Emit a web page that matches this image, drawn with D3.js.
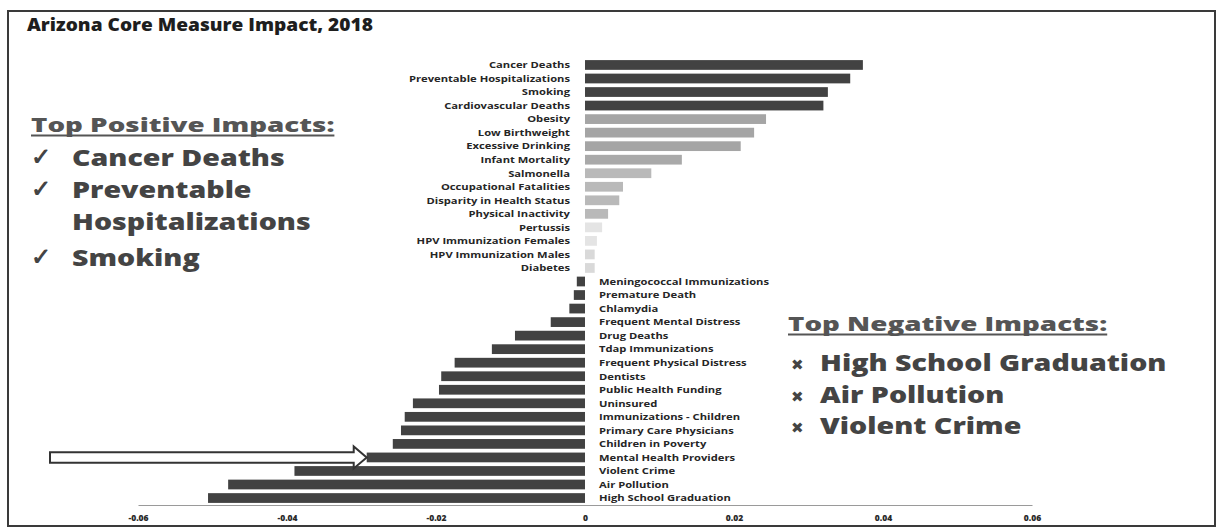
<!DOCTYPE html>
<html>
<head>
<meta charset="utf-8">
<script src="https://cdn.jsdelivr.net/npm/d3@7"></script>
<style>
  html, body { margin: 0; padding: 0; background: #fff; }
  svg { display: block; }
  text { font-family: "Open Sans", "Noto Sans", sans-serif; }
</style>
</head>
<body>
<svg id="chart" width="1219" height="531"></svg>
<script>
// ---------------- data ----------------
const title = "Arizona Core Measure Impact, 2018";

const categories = [
  "Cancer Deaths", "Preventable Hospitalizations", "Smoking", "Cardiovascular Deaths",
  "Obesity", "Low Birthweight", "Excessive Drinking", "Infant Mortality",
  "Salmonella", "Occupational Fatalities", "Disparity in Health Status", "Physical Inactivity",
  "Pertussis", "HPV Immunization Females", "HPV Immunization Males", "Diabetes",
  "Meningococcal Immunizations", "Premature Death", "Chlamydia", "Frequent Mental Distress",
  "Drug Deaths", "Tdap Immunizations", "Frequent Physical Distress", "Dentists",
  "Public Health Funding", "Uninsured", "Immunizations - Children", "Primary Care Physicians",
  "Children in Poverty", "Mental Health Providers", "Violent Crime", "Air Pollution",
  "High School Graduation"
];

const values = [
  0.0373, 0.0356, 0.0326, 0.0320,
  0.0243, 0.0227, 0.0209, 0.0130,
  0.0089, 0.0051, 0.0046, 0.0031,
  0.0023, 0.0016, 0.0013, 0.0013,
  -0.0011, -0.0015, -0.0021, -0.0046,
  -0.0094, -0.0125, -0.0175, -0.0193,
  -0.0196, -0.0231, -0.0242, -0.0247,
  -0.0258, -0.0293, -0.0390, -0.0479,
  -0.0506
];

const tickValues = [-0.06, -0.04, -0.02, 0, 0.02, 0.04, 0.06];

const highlighted = "Mental Health Providers";

const positiveHeading = "Top Positive Impacts:";
const positiveItems = [["Cancer Deaths"], ["Preventable", "Hospitalizations"], ["Smoking"]];
const negativeHeading = "Top Negative Impacts:";
const negativeItems = ["High School Graduation", "Air Pollution", "Violent Crime"];

// ---------------- drawing ----------------
const svg = d3.select("#chart");

// frame
svg.append("rect")
  .attr("x", 8).attr("y", 11).attr("width", 1207).attr("height", 515)
  .attr("fill", "none").attr("stroke", "#3a3a3a").attr("stroke-width", 2);

// title
const tt = svg.append("text")
  .attr("font-size", 18).attr("font-weight", 800).attr("fill", "#1e1e1e")
  .text(title);
const ttW = tt.node().getComputedTextLength();
tt.attr("transform", `translate(27,31) scale(${346 / ttW},1)`);

const data = categories.map((c, i) => ({ name: c, value: values[i] }));

const x = d3.scaleLinear().domain([-0.06, 0.06]).range([138, 1032]);
const y = d3.scaleBand().domain(categories).range([58.2, 504.8])
  .paddingInner(0.28).paddingOuter(0.14);

const color = d3.scaleThreshold()
  .domain([0, 0.0015, 0.0028, 0.011, 0.02, 0.03])
  .range(["#424242", "#d9d9d9", "#e4e4e4", "#b9b9b9", "#a9a9a9", "#a5a5a5", "#424242"]);

// axis
const axis = d3.axisBottom(x)
  .tickValues(tickValues)
  .tickSize(0)
  .tickPadding(10)
  .tickFormat(d => d === 0 ? "0" : d.toFixed(2));

const gAxis = svg.append("g")
  .attr("transform", "translate(0,505)")
  .call(axis);
gAxis.select(".domain").attr("stroke", "#9a9a9a").attr("stroke-width", 1.2);
gAxis.selectAll("text")
  .attr("font-size", 8.5).attr("font-weight", 800).attr("fill", "#2a2a2a")
  .attr("font-family", "'Open Sans', sans-serif");

// bars
svg.append("g").selectAll("rect")
  .data(data)
  .join("rect")
  .attr("x", d => Math.min(x(d.value), x(0)))
  .attr("width", d => Math.abs(x(d.value) - x(0)))
  .attr("y", d => y(d.name))
  .attr("height", y.bandwidth())
  .attr("fill", d => color(d.value));

// category labels
const sx = 1.18;
svg.append("g").selectAll("text")
  .data(data)
  .join("text")
  .attr("transform", d => {
    const tx = d.value >= 0 ? x(0) - 15 : x(0) + 14;
    return `translate(${tx},${y(d.name) + y.bandwidth() / 2}) scale(${sx},1)`;
  })
  .attr("dy", "0.35em")
  .attr("text-anchor", d => d.value >= 0 ? "end" : "start")
  .attr("font-size", 9.5)
  .attr("font-weight", 700)
  .attr("fill", "#262626")
  .text(d => d.name);

// arrow pointing at highlighted bar
const hv = data.find(d => d.name === highlighted);
const tipX = x(hv.value), cy = y(hv.name) + y.bandwidth() / 2;
const tailX = 50, headLen = 13, bodyH = 5.2, headH = 11;
svg.append("path")
  .attr("d", `M${tailX},${cy - bodyH} L${tipX - headLen},${cy - bodyH} L${tipX - headLen},${cy - headH} L${tipX},${cy} L${tipX - headLen},${cy + headH} L${tipX - headLen},${cy + bodyH} L${tailX},${cy + bodyH} Z`)
  .attr("fill", "#fff").attr("stroke", "#333").attr("stroke-width", 2)
  .attr("stroke-linejoin", "miter");

// annotation blocks
function stretchedText(g, tx, ty, size, weight, fill, str, sc) {
  return g.append("text")
    .attr("transform", `translate(${tx},${ty}) scale(${sc},1)`)
    .attr("font-size", size).attr("font-weight", weight).attr("fill", fill)
    .text(str);
}
const hSize = 18.5, hs = 1.5, iSize = 22.5, is = 1.27;

const gPos = svg.append("g");
const ph = stretchedText(gPos, 31, 132, hSize, 800, "#555", positiveHeading, hs);
const phW = ph.node().getComputedTextLength() * hs;
gPos.append("line").attr("x1", 31).attr("x2", 31 + phW).attr("y1", 135.5).attr("y2", 135.5)
  .attr("stroke", "#555").attr("stroke-width", 2);

const posBaselines = [[166], [198, 230], [266]];
positiveItems.forEach((lines, i) => {
  gPos.append("text")
    .attr("x", 31).attr("y", posBaselines[i][0] - 1)
    .attr("font-size", 24).attr("font-weight", 700).attr("fill", "#444")
    .attr("font-family", "'DejaVu Sans', sans-serif")
    .text("\u2713");
  lines.forEach((ln, j) => {
    stretchedText(gPos, 72, posBaselines[i][j], iSize, 800, "#444", ln, is);
  });
});

const gNeg = svg.append("g");
const nh = stretchedText(gNeg, 788, 331, hSize, 800, "#555", negativeHeading, hs);
const nhW = nh.node().getComputedTextLength() * hs;
gNeg.append("line").attr("x1", 788).attr("x2", 788 + nhW).attr("y1", 334.5).attr("y2", 334.5)
  .attr("stroke", "#555").attr("stroke-width", 2);

const negBaselines = [371, 403, 434];
negativeItems.forEach((s, i) => {
  gNeg.append("text")
    .attr("x", 791).attr("y", negBaselines[i] - 1)
    .attr("font-size", 15).attr("fill", "#444")
    .attr("font-family", "'DejaVu Sans', sans-serif")
    .text("\u2716");
  stretchedText(gNeg, 820, negBaselines[i], iSize, 800, "#444", s, is);
});
</script>
</body>
</html>
